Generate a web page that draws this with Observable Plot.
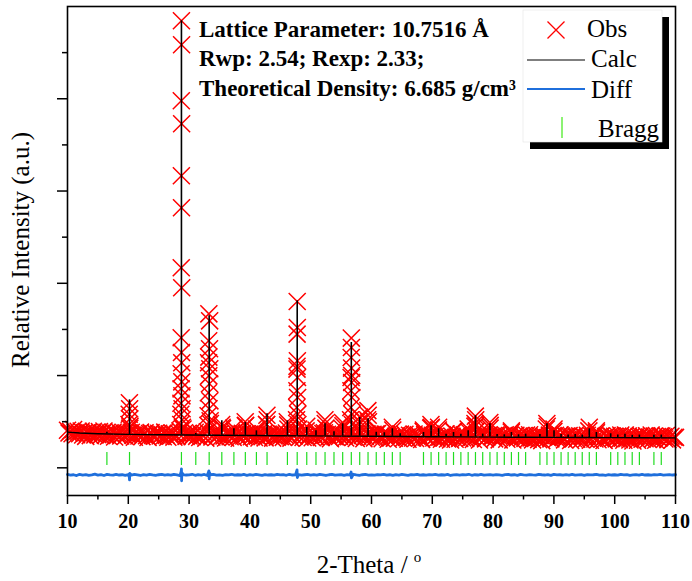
<!DOCTYPE html>
<html><head><meta charset="utf-8">
<script src="https://cdn.jsdelivr.net/npm/d3@7"></script>
<script src="https://cdn.jsdelivr.net/npm/@observablehq/plot@0.6"></script>
<style>body{margin:0;background:#fff}svg{display:block}</style>
</head><body><div id="chart"></div>
<script>
// ---- data ----
const obsStart = 10, obsStep = 0.25;
const obsBackground = [
407,378,397,370,415,380,359,397,369,399,356,380,341,381,386,349,369,396,356,385,
360,392,352,378,398,354,385,342,380,361,387,334,374,351,390,345,364,380,340,368,
373,430,386,354,332,375,366,345,387,338,362,379,348,329,372,381,352,344,376,355,
374,345,364,337,387,352,331,369,346,376,333,357,340,375,400,1250,420,380,340,369,
346,378,338,364,385,341,358,329,368,349,375,322,390,1200,480,335,355,371,331,359,
364,334,425,345,323,366,357,336,379,330,390,371,340,321,364,373,345,455,369,348,
366,337,356,329,385,344,323,361,338,368,325,470,365,354,359,322,345,372,332,361,
338,370,330,356,378,420,351,322,361,342,375,1100,420,334,373,328,348,400,324,352,
357,327,370,338,375,360,351,330,372,380,430,364,334,315,358,375,338,330,362,341,
360,420,350,323,372,337,400,1000,332,362,319,343,470,390,352,315,339,370,500,355,
332,364,324,370,371,327,344,315,355,365,362,309,350,327,410,321,342,358,318,365,
351,321,364,332,310,353,344,323,366,317,341,358,327,308,395,360,332,324,356,430,
353,324,343,316,410,331,310,348,325,370,312,336,301,341,395,309,332,359,319,365,
325,357,317,343,390,320,337,308,450,400,355,302,343,360,359,314,335,351,430,339,
344,314,357,355,303,346,337,350,359,310,334,351,385,301,344,353,325,345,349,328,
347,318,355,310,359,324,303,341,319,349,306,350,295,335,340,420,327,354,314,343,
395,352,312,338,359,345,332,303,343,340,350,297,338,315,354,309,330,346,306,345,
339,309,352,400,299,342,333,312,380,305,329,346,316,297,340,349,321,350,345,324,
343,314,345,306,356,321,300,355,315,345,302,340,291,331,336,299,340,350,310,339,
316,348,308,334,356,311,345,299,339,320,346,345,335,312,351,306,327,343,303,331,330
];
const obsPeaks = [
[20.18,705],[20.22,640],[20.15,580],[20.25,530],[20.12,470],[20.28,450],
[28.74,4846],[28.76,4585],[28.72,3978],[28.77,3729],[28.73,3165],[28.75,2818],[28.71,2168],[28.78,1951],[28.70,1409],[28.79,1138],[28.69,1019],[28.80,932],[28.68,856],[28.82,780],[28.66,700],[28.84,640],[28.64,580],[28.86,520],[28.62,470],[28.90,440],
[33.25,1669],[33.38,1593],[33.22,1377],[33.36,1290],[33.20,1138],[33.40,1073],[33.24,997],[33.35,911],[33.17,813],[33.42,726],[33.28,640],[33.13,564],[33.46,509],[33.10,460],
[47.78,1803],[47.80,1521],[47.76,1449],[47.81,1160],[47.75,1070],[47.83,979],[47.73,835],[47.85,762],[47.70,654],[47.87,582],[47.67,520],[47.90,470],
[56.68,1406],[56.70,1304],[56.66,1196],[56.72,1081],[56.64,979],[56.74,925],[56.62,835],[56.77,762],[56.60,654],[56.80,580],[56.56,520],[56.84,470],
[35.36,470],[35.42,440],[37.37,430],[39.23,500],[39.30,460],[41.07,420],
[42.80,570],[42.86,520],[42.74,470],[46.15,500],[46.22,465],[49.35,450],[50.87,410],
[52.34,520],[52.40,480],[53.83,400],[55.24,490],[55.30,455],[58.04,550],[58.10,500],
[59.40,620],[59.46,570],[59.36,520],[63.43,440],[68.55,410],[69.78,470],[69.84,440],
[71.04,440],[73.49,400],[75.90,420],[77.08,560],[77.14,520],[77.02,480],[77.20,460],
[79.46,490],[79.52,460],[83.01,400],[88.84,480],[88.90,450],[90.02,420],[95.82,440],[96.99,400]
];
const calcBgTheta = [10,12,15,20,25,30,35,40,45,50,55,60,65,70,75,80,85,90,95,100,105,110];
const calcBgValue = [387,378,370,362,359,356,353,350,348,346,344,342,340,337,335,333,331,330,328,327,326,325];
const braggPos = [16.48,20.2,28.74,31.1,33.3,35.38,37.37,39.25,41.07,42.82,46.17,47.78,49.35,50.87,52.36,53.83,55.26,56.68,58.06,59.43,60.78,62.11,63.43,64.72,68.55,69.8,71.04,72.27,73.49,74.7,75.9,77.1,78.29,79.48,80.66,81.84,83.01,84.18,85.35,87.7,88.86,90.02,91.18,92.34,93.5,94.66,95.82,96.99,99.34,100.51,101.69,102.88,104.06,106.45,107.66];
const calcPeakBase = [368,362,357,355,354,353,352,351,350,349,348,347,346,346,345,345,344,343,343,342,342,341,341,340,338,338,338,337,336,335,335,334,334,333,333,332,332,331,331,330,330,330,329,329,328,328,328,328,327,327,326,326,326,325,325];
const calcPeakTop = [385,737,4846,372,1648,509,423,491,401,585,509,1810,437,401,477,390,477,1358,545,531,385,380,423,370,383,455,423,365,383,365,401,564,365,477,360,358,383,358,365,360,477,401,360,355,360,355,423,383,369,355,365,352,355,352,355];
const diffStart = 10, diffStep = 0.5;
const diffValues = [
-72,-80,-75,-84,-70,-78,-73,-81,-76,-69,-79,-74,-83,-71,-77,-80,-72,-78,-75,-82,
-74,-79,-71,-77,-83,-73,-78,-70,-76,-81,-75,-72,-79,-74,-80,-71,-77,-84,-73,-78,
-76,-70,-81,-74,-78,-72,-83,-75,-71,-79,-76,-82,-73,-77,-70,-80,-75,-78,-72,-81,
-74,-79,-71,-76,-82,-73,-78,-75,-80,-72,-77,-74,-81,-70,-78,-76,-73,-79,-75,-71,
-78,-74,-80,-72,-77,-83,-75,-71,-79,-76,-73,-81,-74,-78,-70,-77,-82,-75,-72,-79,
-76,-80,-73,-77,-71,-79,-75,-82,-74,-78,-72,-76,-81,-73,-77,-70,-79,-75,-80,-74,
-77,-72,-80,-75,-78,-71,-83,-76,-74,-79,-73,-77,-70,-81,-75,-78,-72,-80,-76,-74,
-79,-73,-77,-81,-74,-70,-78,-75,-82,-72,-76,-79,-73,-77,-80,-71,-75,-78,-74,-82,
-72,-77,-75,-80,-73,-78,-71,-79,-76,-74,-81,-73,-77,-75,-70,-79,-76,-82,-74,-78,
-75,-80,-72,-77,-74,-81,-76,-73,-79,-71,-78,-75,-80,-74,-77,-72,-79,-76,-73,-78,-75
];
const diffPeaks = [[20.15,-95],[20.2,-130],[20.25,-60],[28.7,-40],[28.74,-11],[28.77,-141],[28.8,-50],
[33.25,-33],[33.3,-119],[33.35,-50],[47.75,-22],[47.8,-105],[56.65,-45],[56.7,-110]];
const xMajor = [10,20,30,40,50,60,70,80,90,100,110];
const xMinor = [15,25,35,45,55,65,75,85,95,105];
const yMajor = [0,1000,2000,3000,4000];
const yMinor = [500,1500,2500,3500,4500];
const infoLines = ["Lattice Parameter: 10.7516 Å", "Rwp: 2.54; Rexp: 2.33;", "Theoretical Density: 6.685 g/cm³"];
const legendLabels = ["Obs", "Calc", "Diff", "Bragg"];

// ---- tables ----
const obs = obsBackground.map((v, i) => ({theta: obsStart + i * obsStep, value: v}))
  .concat(obsPeaks.map(([t, v]) => ({theta: t, value: v})));
const diff = diffValues.map((v, i) => ({theta: diffStart + i * diffStep, value: v}))
  .concat(diffPeaks.map(([t, v]) => ({theta: t, value: v})))
  .sort((a, b) => a.theta - b.theta);
const calcBg = calcBgTheta.map((t, i) => ({theta: t, value: calcBgValue[i]}));
const calcPeaks = braggPos.map((t, i) => ({theta: t, base: calcPeakBase[i], top: calcPeakTop[i]}));

const serif = '"Liberation Serif", "Times New Roman", Times, serif';
const chart = Plot.plot({
  width: 692, height: 581,
  marginLeft: 67, marginRight: 17, marginTop: 6, marginBottom: 86,
  x: {domain: [10, 110]},
  y: {domain: [-300, 5000]},
  style: {fontFamily: serif, fontSize: "20px", background: "white", color: "black"},
  marks: [
    Plot.ruleX(braggPos, {x: d => d, y1: 25, y2: 166, stroke: "#22dd22", strokeWidth: 1.2}),
    Plot.line(diff, {x: "theta", y: "value", stroke: "#1f6fdc", strokeWidth: 2.8}),
    Plot.dot(obs, {x: "theta", y: "value", symbol: "times", r: 7.8, stroke: "#ff0000", fill: "none", strokeWidth: 1.5}),
    Plot.line(calcBg, {x: "theta", y: "value", stroke: "black", strokeWidth: 1.4}),
    Plot.ruleX(calcPeaks, {x: "theta", y1: "base", y2: "top", stroke: "black", strokeWidth: 1.6}),
    Plot.axisX({ticks: xMajor, tickSize: 9, tickPadding: 9, fontWeight: "bold", fontSize: 20, strokeWidth: 1.5, label: null}),
    Plot.axisX({ticks: xMinor, tickSize: 4.5, tickFormat: () => "", strokeWidth: 1.5, label: null}),
    Plot.axisY({ticks: yMajor, tickSize: 10, tickFormat: () => "", strokeWidth: 1.5, label: null}),
    Plot.axisY({ticks: yMinor, tickSize: 5, tickFormat: () => "", strokeWidth: 1.5, label: null}),
    Plot.frame({stroke: "black", strokeWidth: 1.6})
  ]
});
document.getElementById("chart").appendChild(chart);

// ---- titles, annotation and legend ----
const svg = d3.select(chart);
const xt = svg.append("text").attr("x", 369).attr("y", 573).attr("text-anchor", "middle")
  .attr("font-family", serif).attr("font-size", 25).attr("fill", "black").text("2-Theta / ");
xt.append("tspan").attr("font-size", 15).attr("dy", -11).text("o");
svg.append("text").attr("transform", "translate(29,250) rotate(-90)").attr("text-anchor", "middle")
  .attr("font-family", serif).attr("font-size", 25).attr("fill", "black").text("Relative Intensity (a.u.)");
infoLines.forEach((s, i) => {
  svg.append("text").attr("x", 199).attr("y", [37, 66, 96][i]).attr("text-anchor", "start").attr("font-family", serif)
    .attr("font-size", 23).attr("font-weight", "bold").attr("fill", "black").text(s);
});
const lg = svg.append("g");
lg.append("rect").attr("x", 530).attr("y", 17).attr("width", 139).attr("height", 132).attr("fill", "black");
lg.append("rect").attr("x", 523).attr("y", 10).attr("width", 139).attr("height", 132).attr("fill", "white").attr("stroke", "#e4e4e4").attr("stroke-width", 0.6);
lg.append("path").attr("d", "M547.5,21.5L564.5,38.5M547.5,38.5L564.5,21.5").attr("stroke", "#ff0000").attr("stroke-width", 1.3).attr("fill", "none");
lg.append("line").attr("x1", 527).attr("x2", 585).attr("y1", 60).attr("y2", 60).attr("stroke", "#555").attr("stroke-width", 1.5);
lg.append("line").attr("x1", 527).attr("x2", 585).attr("y1", 89).attr("y2", 89).attr("stroke", "#1f6fdc").attr("stroke-width", 2);
lg.append("line").attr("x1", 562).attr("x2", 562).attr("y1", 117).attr("y2", 138).attr("stroke", "#66ee44").attr("stroke-width", 1.5);
[[587, 37], [591, 67], [591, 98], [598, 137]].forEach(([x, y], i) => {
  lg.append("text").attr("x", x).attr("y", y).attr("text-anchor", "start").attr("font-family", serif).attr("font-size", 25)
    .attr("fill", "black").text(legendLabels[i]);
});
</script>
</body></html>
